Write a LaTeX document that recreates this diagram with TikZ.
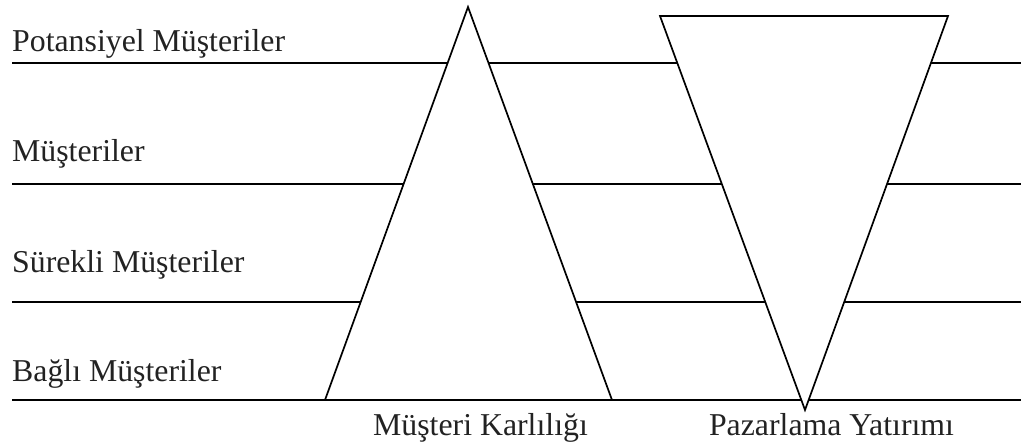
\documentclass[tikz,border=0pt]{standalone}
\usepackage{fontspec}
\setmainfont{Liberation Serif}
\definecolor{txt}{HTML}{222222}
\begin{document}
\begin{tikzpicture}[x=1pt,y=-1pt,
  lvl/.style={line width=1.7pt},
  tri/.style={draw,fill=white,line width=1.7pt,line join=miter},
  lab/.style={font=\fontsize{31.8}{31.8}\selectfont,text=txt,inner sep=0pt,anchor=base west},
  caplab/.style={font=\fontsize{31.8}{31.8}\selectfont,text=txt,inner sep=0pt,anchor=base}]
\useasboundingbox (0,0) rectangle (1025,447);
\coordinate (l1a) at (12,63); \coordinate (l1b) at (1021,63);
\coordinate (l2a) at (12,184); \coordinate (l2b) at (1021,184);
\coordinate (l3a) at (12,302); \coordinate (l3b) at (1021,302);
\coordinate (l4a) at (12,400); \coordinate (l4b) at (1021,400);
\draw[lvl] (l1a) -- (l1b);
\draw[lvl] (l2a) -- (l2b);
\draw[lvl] (l3a) -- (l3b);
\draw[lvl] (l4a) -- (l4b);
\coordinate (ua) at (468,7); \coordinate (ub) at (325,400); \coordinate (uc) at (612,400);
\coordinate (da) at (660,16); \coordinate (db) at (948,16); \coordinate (dc) at (805,410);
\draw[tri] (ua) -- (ub) -- (uc) -- cycle;
\draw[tri] (da) -- (db) -- (dc) -- cycle;
\node[lab] (t1) at (12,51.7) {Potansiyel Müşteriler};
\node[lab] (t2) at (12,161.7) {Müşteriler};
\node[lab] (t3) at (12,272.7) {Sürekli Müşteriler};
\node[lab] (t4) at (12,381.7) {Bağlı Müşteriler};
\node[caplab] (c1) at (480.5,435.5) {Müşteri Karlılığı};
\node[caplab] (c2) at (831.5,435.5) {Pazarlama Yatırımı};
\end{tikzpicture}
\end{document}
